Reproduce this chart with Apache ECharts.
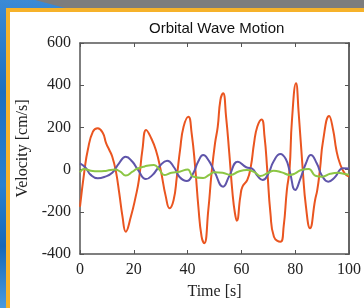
<!DOCTYPE html>
<html lang="en">
<head>
    <meta charset="UTF-8">
    <title>Orbital Wave Motion</title>
    <script src="https://cdn.jsdelivr.net/npm/echarts@6/dist/echarts.min.js"></script>
    <style>
        body{margin:0;width:364px;height:308px;overflow:hidden;position:relative;
             background:linear-gradient(180deg,#3b8ad6 0%,#1e6fc0 30%,#2a80d0 60%,#1568b8 80%,#4a9ae0 100%);}
        #gray{position:absolute;left:0;top:0;width:364px;height:8px;background:#7d7d7d;
              clip-path:polygon(35px 0,364px 0,364px 8px,65px 8px);}
        #frame{position:absolute;left:6px;top:8px;width:358px;height:300px;background:#f6b22a;}
        #panel{position:absolute;left:10px;top:12px;width:354px;height:296px;background:#fff;}
        #main{position:absolute;left:0;top:0;width:364px;height:308px;}
    </style>
</head>
<body>
<div id="gray"></div>
<div id="frame"></div>
<div id="panel"></div>
<div id="main"></div>
<script>
    // orange
    var orangeT=[0,1.7,2.9,4.8,6.6,8.5,9.7,10.9,12,13.3,14.6,15.8,17,18.9,20.7,21.9,23.2,24.6,26.2,28.2,30,31.9,33.3,34.8,36,37.2,38.5,40.3,41.5,42.8,44,45.2,46.2,47.7,48.9,50.2,51.2,52.2,53.2,54.3,55.5,56.7,57.6,58.3,59.6,60.4,62.2,63.5,64.7,65.9,67.5,68.6,69.6,70.8,72.1,74.5,75.7,76.9,77.9,78.8,80.3,81.3,82.8,84,85.5,87.4,88.2,89.2,90.4,92.6,94.1,95.3,96.6,98.4,100];
    var orangeV=[-176,0,93,180,196,173,125,93,61,-5,-112,-223,-294,-223,-128,-49,93,188,156,93,-2,-128,-183,-144,-34,93,203,251,173,14,-176,-318,-349,-191,-18,125,203,330,362,251,77,-112,-207,-242,-128,-81,-49,14,125,203,238,156,0,-207,-318,-342,-270,-97,0,235,409,267,0,-176,-278,-144,-97,0,140,254,188,93,30,-18,-33];
    // purple
    var purpleT=[0,2,4,6.6,9,12,14.5,17,19.5,21.5,24.5,27,29.5,32.4,35,37,39.7,42,44,45.8,48,50,53.2,55.5,58.7,61.8,64,66,67.9,70,72,74.5,76.5,78,80,82,84,85.8,88,90,92.3,94.5,97.8,100];
    var purpleV=[30,10,-25,-41,-35,-15,30,61,37,0,-45,-25,15,42,10,-35,-54,-20,40,69,40,-10,-81,-30,37,11,5,-30,-49,-20,40,74,50,-10,-97,-40,30,69,30,-30,-57,-40,6,5];
    // green
    var greenT=[0,1.5,4,7,10,13,15,17,19.5,21,24,27.5,29.5,31.3,34,37,40,42,45.8,48,50,53,56,59,62,65,67,70,72,75,78,80,82,85,87.5,90,93,96,98,100];
    var greenV=[-13,3,-5,-8,-5,0,-10,-28,-10,3,15,22,0,-26,-15,-10,1,-33,-40,-25,-12,-15,-25,-9,-2,-13,-30,-15,-5,-13,-25,-18,-3,3,-29,-34,-20,-15,-20,-24];

    var xTicks={min:0,max:100,interval:20};
    var yTicks={min:-400,max:600,interval:200};

    function pairs(t,v){
        var out=[];
        for(var i=0;i<t.length;i++){out.push([t[i],v[i]]);}
        return out;
    }

    var serif='Liberation Serif, DejaVu Serif, serif';
    var axisCol='#555';

    function frameAxis(pos){
        return {
            type:'value',position:pos,
            axisLine:{show:true,onZero:false,lineStyle:{color:axisCol,width:1.5}},
            axisTick:{show:true,inside:true,length:4,lineStyle:{color:axisCol}},
            axisLabel:{show:false},splitLine:{show:false}
        };
    }

    var topAxis=frameAxis('top');
    topAxis.min=xTicks.min;topAxis.max=xTicks.max;topAxis.interval=xTicks.interval;
    var rightAxis=frameAxis('right');
    rightAxis.min=yTicks.min;rightAxis.max=yTicks.max;rightAxis.interval=yTicks.interval;
    rightAxis.axisLine.lineStyle={color:'#666',width:2};

    var myCharts=echarts.init(document.getElementById('main'));
    var option={
        animation:false,
        title:{
            text:'Orbital Wave Motion',
            left:144,
            top:16,
            textStyle:{fontFamily:'Liberation Sans, sans-serif',fontSize:15,fontWeight:'normal',color:'#111'}
        },
        grid:{left:80,top:43,right:12,bottom:54,containLabel:false},
        xAxis:[{
            type:'value',min:xTicks.min,max:xTicks.max,interval:xTicks.interval,position:'bottom',
            axisLine:{show:true,onZero:false,lineStyle:{color:axisCol,width:1.5}},
            axisTick:{show:true,inside:true,length:4,lineStyle:{color:axisCol}},
            axisLabel:{fontFamily:serif,fontSize:16,color:'#222',margin:8},
            splitLine:{show:false},
            name:'Time [s]',nameLocation:'middle',nameGap:30,
            nameTextStyle:{fontFamily:serif,fontSize:16,color:'#222'}
        },topAxis],
        yAxis:[{
            type:'value',min:yTicks.min,max:yTicks.max,interval:yTicks.interval,position:'left',
            axisLine:{show:true,onZero:false,lineStyle:{color:axisCol,width:1.5}},
            axisTick:{show:true,inside:true,length:4,lineStyle:{color:axisCol}},
            axisLabel:{fontFamily:serif,fontSize:16,color:'#222',margin:9},
            splitLine:{show:false},
            name:'Velocity [cm/s]',nameLocation:'middle',nameGap:48,
            nameTextStyle:{fontFamily:serif,fontSize:16,color:'#222'}
        },rightAxis],
        series:[{
            name:'purple',type:'line',data:pairs(purpleT,purpleV),smooth:true,showSymbol:false,
            lineStyle:{color:'#5f55aa',width:2},z:3
        },{
            name:'green',type:'line',data:pairs(greenT,greenV),smooth:true,showSymbol:false,
            lineStyle:{color:'#8cc644',width:2},z:4
        },{
            name:'orange',type:'line',data:pairs(orangeT,orangeV),smooth:true,showSymbol:false,
            lineStyle:{color:'#ea5520',width:2},z:2
        }]
    };
    myCharts.setOption(option);
</script>
</body>
</html>
